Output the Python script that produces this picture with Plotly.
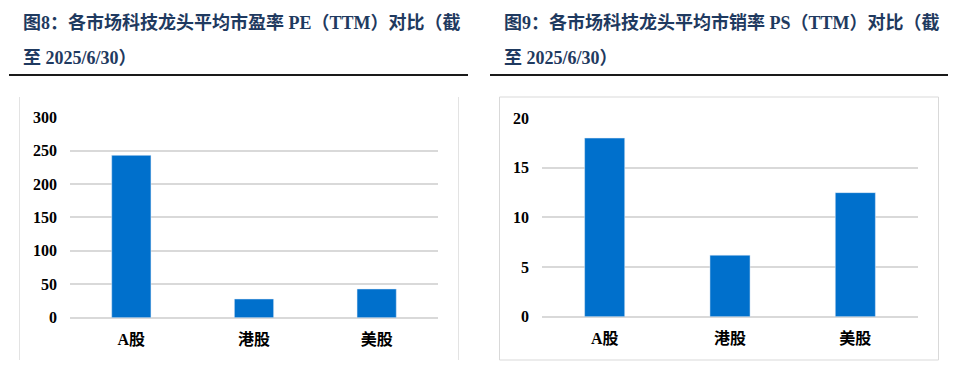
import plotly.graph_objects as go

categories = ["A股", "港股", "美股"]
pe_values = [243, 28, 43]
ps_values = [18.0, 6.2, 12.5]
pe_ticks = [0, 50, 100, 150, 200, 250, 300]
ps_ticks = [0, 5, 10, 15, 20]
title_left = ["图8：各市场科技龙头平均市盈率 PE（TTM）对比（截", "至 2025/6/30）"]
title_right = ["图9：各市场科技龙头平均市销率 PS（TTM）对比（截", "至 2025/6/30）"]

W, H = 960, 373
BAR = "#0070CC"
GRID = "#D9D9D9"
NAVY = "#1F3A60"
FONT = "Liberation Serif, Noto Sans CJK SC, serif"

def px(x):
    return x / W

def py(y):
    return 1 - y / H

fig = go.Figure()
fig.add_trace(go.Bar(x=categories, y=pe_values, marker_color=BAR, xaxis="x", yaxis="y", hoverinfo="skip"))
fig.add_trace(go.Bar(x=categories, y=ps_values, marker_color=BAR, xaxis="x2", yaxis="y2", hoverinfo="skip"))

axis_font = dict(family=FONT, size=16, color="#000000", weight="bold")

fig.update_layout(
    width=W, height=H,
    margin=dict(l=0, r=0, t=0, b=0, pad=0, autoexpand=False),
    paper_bgcolor="white", plot_bgcolor="white",
    showlegend=False,
    bargap=0.68,
    xaxis=dict(domain=[px(70), px(438)], anchor="y", showgrid=False, showline=False,
               tickfont=axis_font, ticks="", ticklabelstandoff=10, automargin=False),
    yaxis=dict(domain=[py(317.7), py(116.7)], anchor="x", range=[0, 300.8],
               tickvals=pe_ticks, showgrid=True, gridcolor=GRID, gridwidth=1.8,
               zeroline=True, zerolinecolor=GRID, zerolinewidth=1.8,
               showline=False, tickfont=axis_font, ticklabelstandoff=12, automargin=False),
    xaxis2=dict(domain=[px(542), px(918)], anchor="y2", showgrid=False, showline=False,
                tickfont=axis_font, ticks="", ticklabelstandoff=10, automargin=False),
    yaxis2=dict(domain=[py(316.7), py(117.7)], anchor="x2", range=[0, 20.05],
                tickvals=ps_ticks, showgrid=True, gridcolor=GRID, gridwidth=1.8,
                zeroline=True, zerolinecolor=GRID, zerolinewidth=1.8,
                showline=False, tickfont=axis_font, ticklabelstandoff=12, automargin=False),
)

title_font = dict(family=FONT, size=18, color=NAVY, weight="bold")
for x0, lines in ((21, title_left), (502, title_right)):
    for i, yline in enumerate((22, 58)):
        fig.add_annotation(text=lines[i], xref="paper", yref="paper",
                           x=px(x0), y=py(yline), xanchor="left", yanchor="middle",
                           showarrow=False, font=title_font)

shapes = [
    dict(type="line", xref="paper", yref="paper", x0=px(9), x1=px(468), y0=py(75), y1=py(75),
         line=dict(color="#1A1A1A", width=2)),
    dict(type="line", xref="paper", yref="paper", x0=px(490), x1=px(948), y0=py(75), y1=py(75),
         line=dict(color="#1A1A1A", width=2)),
    dict(type="line", xref="paper", yref="paper", x0=px(19.5), x1=px(19.5), y0=py(97), y1=py(360),
         line=dict(color="#E3E3E3", width=1)),
    dict(type="line", xref="paper", yref="paper", x0=px(458.5), x1=px(458.5), y0=py(97), y1=py(360),
         line=dict(color="#E3E3E3", width=1)),
    dict(type="rect", xref="paper", yref="paper", x0=px(499.5), x1=px(938.5), y0=py(360), y1=py(97),
         line=dict(color="#D9D9D9", width=1)),
]
fig.update_layout(shapes=shapes)

fig.write_html("out.html", config={"displayModeBar": False},
               post_script="document.body.style.margin='0';document.body.style.overflow='hidden';")
